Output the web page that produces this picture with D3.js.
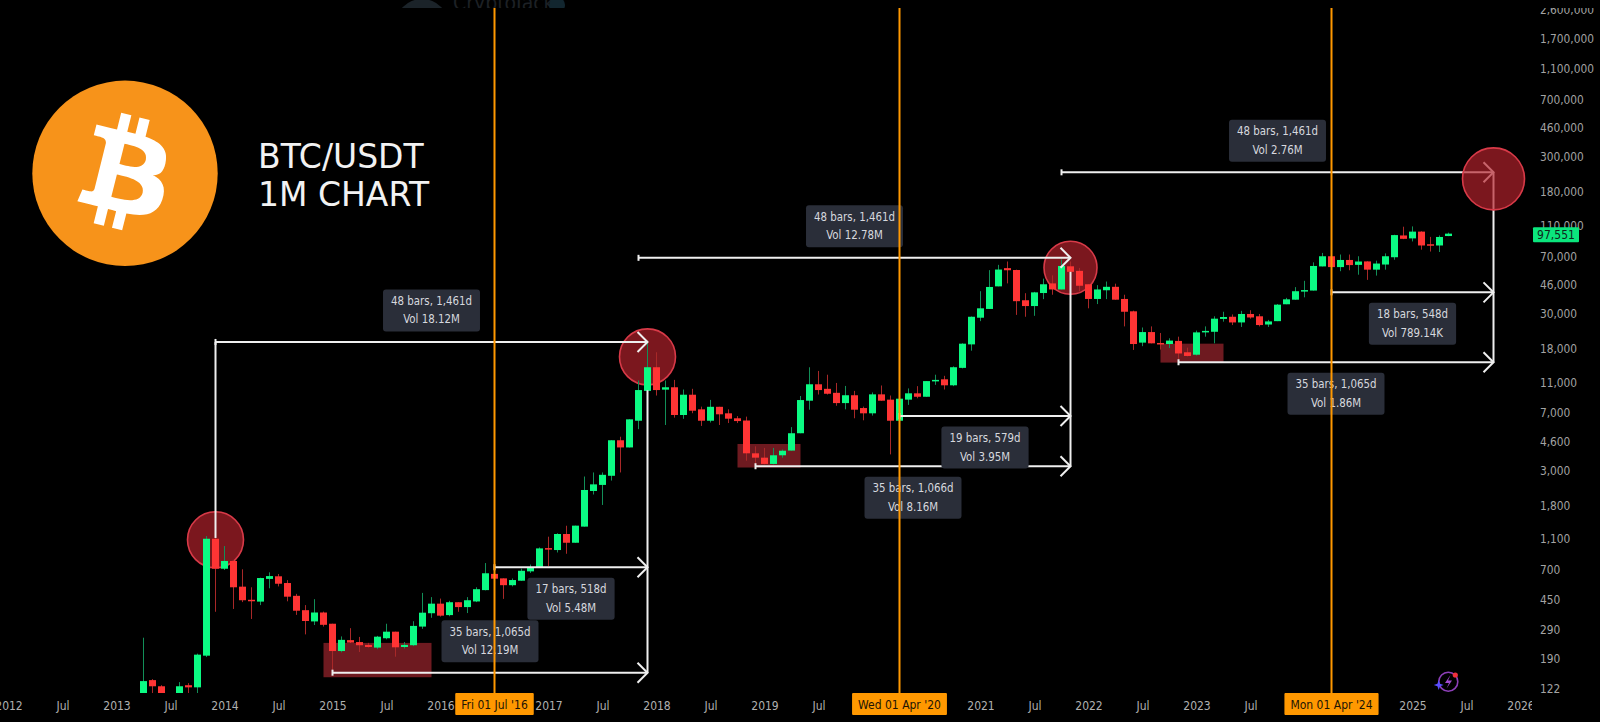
<!DOCTYPE html>
<html>
<head>
<meta charset="utf-8">
<script src="https://cdn.jsdelivr.net/npm/d3@7"></script>
<style>
  html, body { margin: 0; background: #000; overflow: hidden; }
  text { font-family: "DejaVu Sans Condensed", "DejaVu Sans", sans-serif; }
</style>
</head>
<body>
<svg id="chart" width="1600" height="722"></svg>
<script>
// monthly candles, first one is Apr 2013. month numbers below count from Jan 2014
const firstMonth = -9;
const opens = [
  105,139,127,97,106,129,125,199,1107,
  713,799,548,452,440,614,638,578,479,388,329,375,
  318,213,250,243,233,224,257,283,226,232,305,371,
  427,361,436,406,441,521,661,619,560,598,686,729,
  965,938,1187,1044,1323,2232,2440,2790,4700,4230,6260,9700,
  13730,9880,10230,6810,9170,7400,6260,7680,6980,6490,6280,3880,
  3640,3320,3770,4040,5210,8400,10690,10000,9430,8110,9100,7540,
  6980,9220,8530,6260,8530,9360,8900,11280,11500,10530,13600,19200,
  28400,32300,45000,58800,57200,36700,33700,40800,47000,43000,60400,56500,
  46400,37400,42500,44700,37400,31200,19700,23000,19600,19300,20200,17100,
  16500,23100,23100,27900,28800,26500,30000,29000,25700,27000,34600,37000,
  42000,42300,60300,70000,59700,66300,61700,64900,57500,62000,69000,95000,
  91000,100500,83500,82000,94200];
const highs = [
  259,141,129,110,135,133,205,1152,1150,
  995,810,707,543,625,676,660,603,493,418,456,380,
  318,264,298,262,240,266,318,283,243,330,500,470,
  460,445,436,470,543,775,707,619,618,714,758,975,
  1141,1200,1340,1342,2760,2930,2930,4700,4950,6400,11300,20270,
  17100,11300,11400,9900,10000,7700,8500,7680,7400,6700,6650,4300,
  4200,4200,4100,5700,9000,13720,13000,12300,10900,10430,9700,7700,
  9480,10500,9060,9500,10060,10400,11200,12300,12100,13900,19500,28900,
  41900,57100,61700,64800,57500,40700,41500,50400,52900,67000,64900,59000,
  46500,45800,48300,46800,39800,31500,24600,25000,22700,21000,21500,18300,
  23500,25000,29000,31000,29800,31400,31700,30000,27500,34700,38000,44500,
  48800,64000,73500,70500,71800,71800,70000,65000,65600,73000,96000,108000,
  108500,101000,93000,95000,99000];
const lows = [
  84,110,90,90,100,105,105,195,379,
  700,395,437,341,418,535,550,442,362,272,312,305,
  150,209,240,210,224,219,253,196,221,229,295,347,
  353,355,379,372,437,519,608,458,550,598,670,729,
  741,905,888,1044,1323,2120,1818,2600,2930,4230,5530,9700,
  9060,5880,6550,6440,6990,5800,6100,5880,6050,6050,3480,3180,
  3300,3300,3640,4040,5210,7360,9200,9200,7800,7400,6490,6300,
  6750,8400,3820,6260,7900,8700,8900,10600,9900,10400,13500,17500,
  27000,32300,45000,47000,29600,28800,29200,37300,39800,43000,53000,41800,
  32600,34700,37300,37000,25000,17700,18700,19500,17800,18200,15500,16100,
  16300,21500,19500,26800,25500,24800,28000,25000,24800,27000,34600,37000,
  38300,42300,60300,59700,56200,57000,53400,49500,52700,57500,66500,90000,
  87000,77100,75000,74500,94000];
const closes = [
  137,127,97,106,127,125,202,1107,713,
  799,543,449,447,622,640,572,473,385,331,375,313,
  213,251,241,232,226,263,283,225,233,308,374,427,
  358,436,406,449,528,667,616,560,604,692,729,961,
  950,1187,1044,1342,2265,2460,2830,4700,4230,6390,9820,13730,
  9820,10230,6810,9170,7250,6260,7680,6880,6450,6230,3880,3640,
  3320,3770,4030,5210,8480,10690,9820,9300,8110,9100,7360,6980,
  9220,8400,6260,8650,9360,8900,11200,11400,10530,13730,19400,28800,
  32600,44600,57600,57000,36200,33700,41200,46400,43000,60700,55700,45400,
  37400,43000,44700,37000,31000,19300,23000,19500,19200,20300,16800,16200,
  22900,23400,28000,28700,26500,30000,28500,25500,26900,34400,37200,41900,
  42600,60700,70000,59700,66300,61500,64800,57500,62900,70000,95500,90400,
  100500,82000,82000,92900,97551];

const priceTicks = [122,190,290,450,700,1100,1800,3000,4600,7000,11000,18000,30000,46000,70000,110000,180000,300000,460000,700000,1100000,1700000,2600000];
// the ticks under the orange date tags never show, so they are left out
const timeTickMonths = [-24,-18,-12,-6,0,6,12,18,24,36,42,48,54,60,66,84,90,96,102,108,114,132,138,144];
const timeTickLabels = ["2012","Jul","2013","Jul","2014","Jul","2015","Jul","2016","2017","Jul","2018","Jul","2019","Jul","2021","Jul","2022","Jul","2023","Jul","2025","Jul","2026"];

// measuring tools
const measureFrom = [-1,30,12,46,75,59,93,123,106];
const measureTo = [47,47,47,94,94,94,141,141,141];
const measurePrice = [19900,729,155,68400,6710,3210,240000,41200,14770];
const measureBars = ["48 bars, 1,461d","17 bars, 518d","35 bars, 1,065d","48 bars, 1,461d","19 bars, 579d","35 bars, 1,066d","48 bars, 1,461d","18 bars, 548d","35 bars, 1,065d"];
const measureVol = ["Vol 18.12M","Vol 5.48M","Vol 12.19M","Vol 12.78M","Vol 3.95M","Vol 8.16M","Vol 2.76M","Vol 789.14K","Vol 1.86M"];
const measureAbove = [true,false,true,true,false,false,true,false,false];

// vertical white connectors
const linkMonth = [-1,47,94,141];
const linkTop = [19900,9800,55700,240000];
const linkBottom = [1120,155,3210,14770];

// red circles on the cycle tops
const topMonth = [-1,47,94,141];
const topPrice = [1090,15990,59100,218000];
const topRadius = [28,28,26.5,31];

// red accumulation boxes
const boxFrom = [11,57,104];
const boxTo = [23,64,111];
const boxHigh = [240,4450,19400];
const boxLow = [145,3150,14700];

// orange cycle lines
const cycleMonth = [30,75,123];
const cycleLabel = ["Fri 01 Jul '16","Wed 01 Apr '20","Mon 01 Apr '24"];

const lastPrice = 97551;

const green = "#0bfb83", red = "#ff3434";
const greenWick = "#128f58", redWick = "#a82828";
const white = "#efefef", orange = "#ff9800";
const axisGrey = "#a3a3a3";

const x = d3.scaleLinear().domain([0, 144]).range([224.5, 1520.5]);
const y = d3.scaleLog().domain([122, 2600000]).range([689, 10]);

const svg = d3.select("#chart");
svg.append("rect").attr("width", 1600).attr("height", 722).attr("fill", "#000");

const defs = svg.append("defs");
defs.append("clipPath").attr("id", "plotClip").append("rect").attr("x", 0).attr("y", 8).attr("width", 1532).attr("height", 685);
defs.append("clipPath").attr("id", "timeClip").append("rect").attr("x", 0).attr("y", 693).attr("width", 1532).attr("height", 29);
defs.append("clipPath").attr("id", "priceClip").append("rect").attr("x", 1532).attr("y", 8).attr("width", 68).attr("height", 714);
defs.append("clipPath").attr("id", "topClip").append("rect").attr("x", 0).attr("y", 0).attr("width", 1600).attr("height", 8);

// faint header left over at the top edge
const header = svg.append("g").attr("clip-path", "url(#topClip)");
header.append("circle").attr("cx", 422).attr("cy", 26).attr("r", 27).attr("fill", "#1b2329");
header.append("text").attr("x", 453).attr("y", 10).attr("font-size", 21).attr("fill", "#1d2025").text("CryptoJack");
header.append("circle").attr("cx", 557).attr("cy", 5).attr("r", 8).attr("fill", "#12262f");

const plot = svg.append("g").attr("clip-path", "url(#plotClip)");

plot.selectAll("rect.box").data(boxFrom).join("rect").attr("class", "box")
  .attr("x", (d) => x(d))
  .attr("width", (d, i) => x(boxTo[i]) - x(d))
  .attr("y", (d, i) => y(boxHigh[i]))
  .attr("height", (d, i) => y(boxLow[i]) - y(boxHigh[i]))
  .attr("fill", "#6e1a20");

function drawCircle(parent, i) {
  parent.append("circle")
    .attr("cx", x(topMonth[i]))
    .attr("cy", y(topPrice[i]))
    .attr("r", topRadius[i])
    .attr("fill", "#b5222c")
    .attr("fill-opacity", 0.68)
    .attr("stroke", "#d83a48")
    .attr("stroke-width", 1.6);
}
for (let i = 0; i < 3; i++) {
  drawCircle(plot, i);
}

// candles
const candles = plot.selectAll("g.candle").data(opens).join("g").attr("class", "candle");
candles.append("line")
  .attr("x1", (d, i) => x(firstMonth + i))
  .attr("x2", (d, i) => x(firstMonth + i))
  .attr("y1", (d, i) => y(highs[i]))
  .attr("y2", (d, i) => y(lows[i]))
  .attr("stroke", (d, i) => closes[i] >= d ? greenWick : redWick)
  .attr("stroke-width", 1);
candles.append("rect")
  .attr("x", (d, i) => x(firstMonth + i) - 3.5)
  .attr("width", 7)
  .attr("y", (d, i) => Math.min(y(d), y(closes[i])))
  .attr("height", (d, i) => Math.max(1.5, Math.abs(y(d) - y(closes[i]))))
  .attr("fill", (d, i) => closes[i] >= d ? green : red);

// measure lines and arrow heads
const tools = plot.append("g").attr("stroke", white).attr("stroke-width", 2).attr("fill", "none");
linkMonth.forEach(function(m, i) {
  tools.append("line").attr("x1", x(m)).attr("x2", x(m)).attr("y1", y(linkTop[i])).attr("y2", y(linkBottom[i]));
});
measureFrom.forEach(function(m, i) {
  const x0 = x(m), x1 = x(measureTo[i]), yy = y(measurePrice[i]);
  tools.append("line").attr("x1", x0).attr("x2", x1).attr("y1", yy).attr("y2", yy);
  tools.append("line").attr("x1", x0).attr("x2", x0).attr("y1", yy - 3).attr("y2", yy + 3);
  tools.append("path").attr("d", d3.line()([[x1 - 10, yy - 10], [x1, yy], [x1 - 10, yy + 10]]));
});

drawCircle(plot, 3);

// measure labels
const labels = plot.append("g");
measureBars.forEach(function(txt, i) {
  const cx = (x(measureFrom[i]) + x(measureTo[i])) / 2;
  const yy = y(measurePrice[i]);
  const top = measureAbove[i] ? yy - 52.5 : yy + 10.5;
  const box = labels.append("rect").attr("y", top).attr("height", 42).attr("rx", 3).attr("fill", "#2a2e39");
  const t1 = labels.append("text").attr("x", cx).attr("y", top + 15.5).attr("text-anchor", "middle").attr("font-size", 11.4).attr("fill", "#d6d8de").text(txt);
  const t2 = labels.append("text").attr("x", cx).attr("y", top + 34).attr("text-anchor", "middle").attr("font-size", 11.4).attr("fill", "#d6d8de").text(measureVol[i]);
  const w = Math.max(t1.node().getComputedTextLength(), t2.node().getComputedTextLength()) + 16;
  box.attr("x", cx - w / 2).attr("width", w);
});

// cycle lines sit above everything else
plot.selectAll("line.cycle").data(cycleMonth).join("line").attr("class", "cycle")
  .attr("x1", (d) => x(d))
  .attr("x2", (d) => x(d))
  .attr("y1", 8)
  .attr("y2", 693)
  .attr("stroke", orange)
  .attr("stroke-width", 2);

// price axis
const priceAxis = svg.append("g").attr("clip-path", "url(#priceClip)").append("g")
  .attr("transform", "translate(1532,0)")
  .call(d3.axisRight(y).tickValues(priceTicks).tickFormat(d3.format(",")).tickSize(0).tickPadding(8));
priceAxis.select(".domain").remove();
priceAxis.selectAll("text").attr("fill", axisGrey).attr("font-size", 11.8).attr("font-family", null);

// time axis
const timeAxis = svg.append("g").attr("clip-path", "url(#timeClip)").append("g")
  .attr("transform", "translate(0,693)")
  .call(d3.axisBottom(x).tickValues(timeTickMonths).tickFormat((d, i) => timeTickLabels[i]).tickSize(0).tickPadding(8));
timeAxis.select(".domain").remove();
timeAxis.selectAll("text").attr("fill", "#b0b0b0").attr("font-size", 12).attr("font-family", null);

// orange date tags on the time axis
cycleMonth.forEach(function(m, i) {
  const box = svg.append("rect").attr("y", 693).attr("height", 22).attr("rx", 1).attr("fill", orange);
  const t = svg.append("text").attr("x", x(m)).attr("y", 708.5).attr("text-anchor", "middle").attr("font-size", 12).attr("fill", "#1c1405").text(cycleLabel[i]);
  const w = t.node().getComputedTextLength() + 12;
  box.attr("x", x(m) - w / 2).attr("width", w);
});

// last price tag
svg.append("rect").attr("x", 1533).attr("y", y(lastPrice) - 6.5).attr("width", 46).attr("height", 15).attr("rx", 1).attr("fill", "#0be67d");
svg.append("text").attr("x", 1556).attr("y", y(lastPrice) + 5).attr("text-anchor", "middle").attr("font-size", 12).attr("fill", "#10261b").text(d3.format(",")(lastPrice));

// logo and title
svg.append("circle").attr("cx", 125).attr("cy", 173.3).attr("r", 92.7).attr("fill", "#f7931a");
svg.append("path")
  .attr("transform", "translate(32.2,80.5) scale(2.9)")
  .attr("fill", "#fff")
  .attr("d", "M46.11,27.441c0.637-4.258-2.605-6.547-7.038-8.074l1.438-5.768l-3.511-0.875l-1.4,5.616c-0.923-0.23-1.871-0.447-2.813-0.662l1.41-5.653l-3.509-0.875l-1.439,5.766c-0.764-0.174-1.514-0.346-2.242-0.527l0.004-0.018l-4.842-1.209l-0.934,3.75c0,0,2.605,0.597,2.55,0.634c1.422,0.355,1.679,1.296,1.636,2.042l-1.638,6.571c0.098,0.025,0.225,0.061,0.365,0.117c-0.117-0.029-0.242-0.061-0.371-0.092l-2.296,9.205c-0.174,0.432-0.615,1.08-1.609,0.834c0.035,0.051-2.552-0.637-2.552-0.637l-1.743,4.019l4.569,1.139c0.85,0.213,1.683,0.436,2.503,0.646l-1.453,5.834l3.507,0.875l1.439-5.772c0.958,0.26,1.888,0.5,2.798,0.726l-1.434,5.745l3.511,0.875l1.453-5.823c5.987,1.133,10.489,0.676,12.384-4.739c1.527-4.36-0.076-6.875-3.226-8.515C44.032,32.952,45.764,31.108,46.11,27.441L46.11,27.441z M38.087,38.69c-1.085,4.36-8.426,2.003-10.806,1.412l1.928-7.729C31.589,32.968,39.222,34.143,38.087,38.69z M39.173,27.378c-0.99,3.966-7.1,1.951-9.082,1.457l1.748-7.01C33.821,22.319,40.205,23.241,39.173,27.378z");
svg.append("text").attr("x", 258).attr("y", 167.5).attr("font-size", 33).style("font-family", "'DejaVu Sans'").attr("fill", "#f2f2f2").text("BTC/USDT");
svg.append("text").attr("x", 258).attr("y", 205.5).attr("font-size", 33).style("font-family", "'DejaVu Sans'").attr("fill", "#f2f2f2").text("1M CHART");

// small purple badge near the bottom right
const badge = svg.append("g");
badge.append("circle").attr("cx", 1448.3).attr("cy", 681.7).attr("r", 9.5).attr("fill", "none").attr("stroke", "#8d3fb8").attr("stroke-width", 1.6);
badge.append("path").attr("d", "M1450.5,675 L1445,683 L1449,683 L1446.5,688.5 L1452,680.5 L1448,680.5 Z").attr("fill", "#a24bd0");
badge.append("circle").attr("cx", 1455.3).attr("cy", 675).attr("r", 2.6).attr("fill", "#f0303c");
badge.append("path").attr("d", "M1438.7,680 L1440,683.7 L1443.7,685 L1440,686.3 L1438.7,690 L1437.4,686.3 L1433.7,685 L1437.4,683.7 Z").attr("fill", "#5a4dff");
</script>
</body>
</html>
